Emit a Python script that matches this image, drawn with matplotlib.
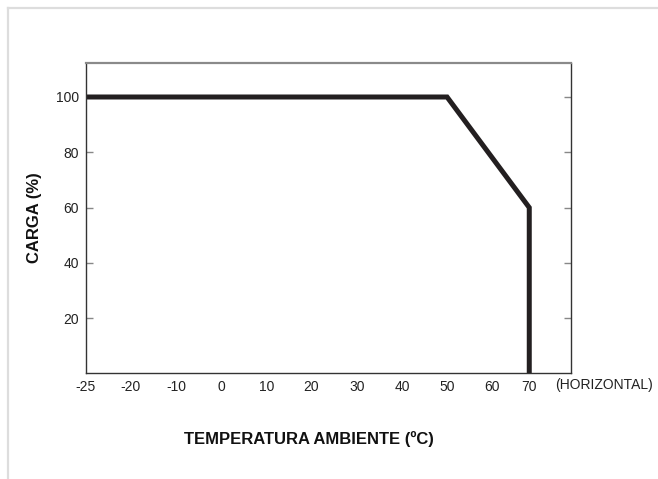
import numpy as np
import matplotlib
matplotlib.use("Agg")
import matplotlib.pyplot as plt
from matplotlib.lines import Line2D

# derating curve
temp = [-25, 50, 70, 70]
load = [100, 100, 60, 0]

xticks = [-25, -20, -10, 0, 10, 20, 30, 40, 50, 60, 70]
xtick_marks = [-20, -10, 0, 10, 20, 30, 40, 50, 60]
yticks = [20, 40, 60, 80, 100]

plt.rcParams['font.family'] = ['Liberation Sans', 'DejaVu Sans']

# the drawing squeezes -25..-20 and 60..70 on the x axis
def fwd(x):
    x = np.asarray(x, dtype=float)
    return np.where(x < -20, -20 + 2.0 * (x + 20),
                    np.where(x > 60, 60 + 0.82 * (x - 60), x))

def inv(p):
    p = np.asarray(p, dtype=float)
    return np.where(p < -20, -20 + (p + 20) / 2.0,
                    np.where(p > 60, 60 + (p - 60) / 0.82, p))

fig = plt.figure(figsize=(6.58, 4.79), dpi=100)
ax = fig.add_axes([0.1302, 0.2203, 0.738, 0.6482])
ax.set_xscale('function', functions=(fwd, inv))

ax.plot(temp, load, color='#231f20', lw=3.6, solid_joinstyle='miter', solid_capstyle='butt')

ax.set_xlim(-25, float(inv(77.5)))
ax.set_ylim(0, 112.3)

ax.set_xticks(xticks)
ax.set_xticklabels([str(t) for t in xticks])
ax.set_xticks(xtick_marks, minor=True)
ax.tick_params(axis='x', which='major', length=0, pad=5, labelsize=10, colors='#222222')
ax.tick_params(axis='x', which='minor', direction='in', length=5, width=1.3, color='#222222')

ax.set_yticks(yticks)
ax.tick_params(axis='y', which='major', direction='in', length=5, width=1.0, color='#888888',
               labelsize=10, labelcolor='#222222', pad=5, right=True)

for s in ['left', 'right', 'bottom']:
    ax.spines[s].set_color('#333333')
    ax.spines[s].set_linewidth(1.0)
ax.spines['top'].set_color('#8a8a8a')
ax.spines['top'].set_linewidth(1.6)

fig.text(0.918, 0.197, '(HORIZONTAL)', ha='center', va='center', fontsize=10, color='#222222')
fig.text(0.4695, 0.083, 'TEMPERATURA AMBIENTE (ºC)', ha='center', va='center',
         fontsize=12, fontweight='bold', color='#111111')
fig.text(0.053, 0.545, 'CARGA (%)', ha='center', va='center', rotation=90,
         fontsize=12, fontweight='bold', color='#111111')

# light frame around the card
fig.add_artist(Line2D([0.0115, 1.0], [0.9827, 0.9827], color='#dddddd', lw=1.6))
fig.add_artist(Line2D([0.0115, 0.0115], [0.0, 0.9827], color='#dddddd', lw=1.6))

fig.savefig('out.png', dpi=100)
